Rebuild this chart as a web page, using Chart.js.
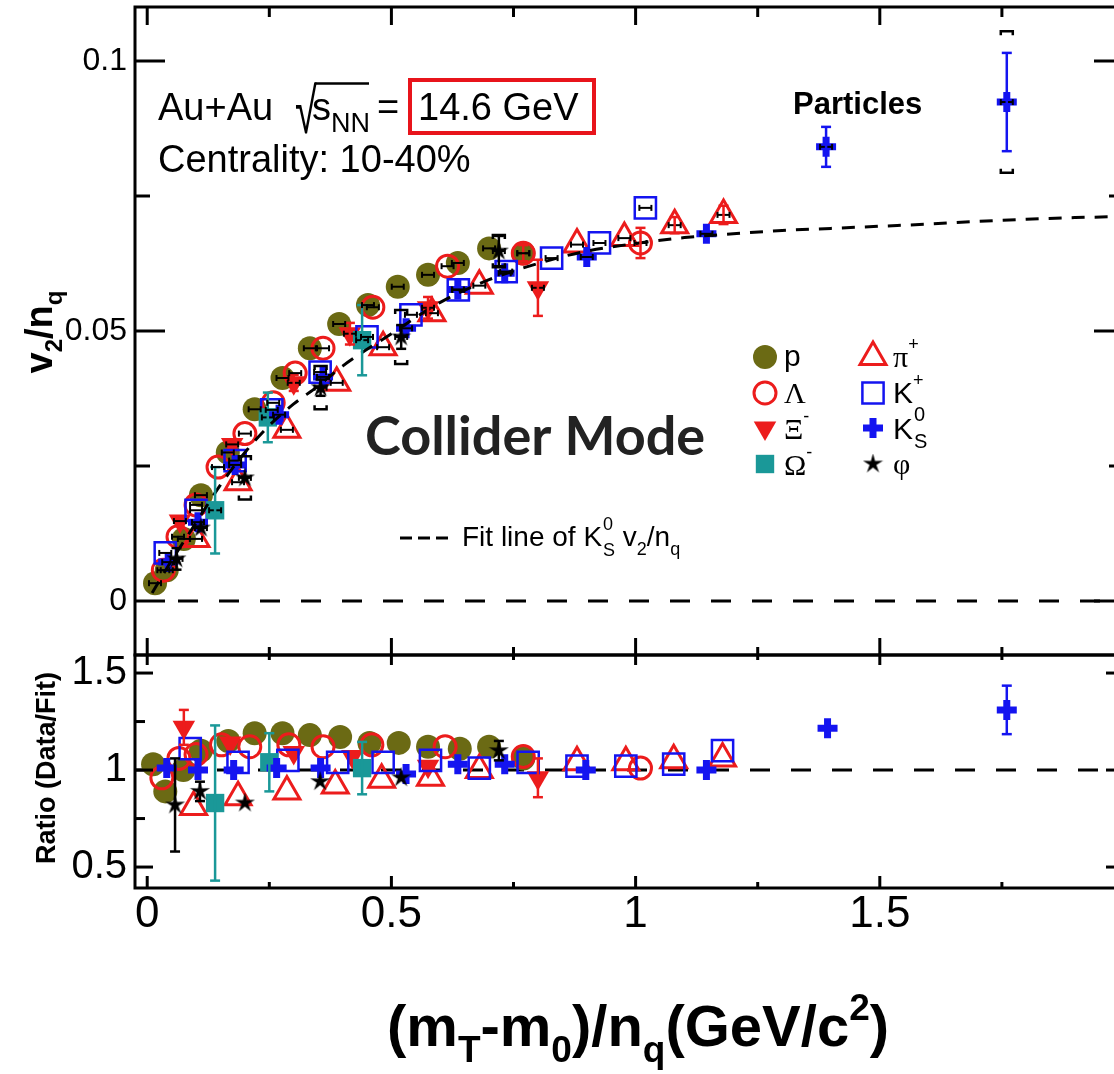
<!DOCTYPE html>
<html>
<head>
<meta charset="utf-8">
<title>v2/nq collider mode</title>
<script src="https://cdn.jsdelivr.net/npm/chart.js@4.4.1/dist/chart.umd.min.js"></script>
<style>
  html, body { margin: 0; padding: 0; background: #fff; overflow: hidden; }
  #wrap { position: relative; width: 1114px; height: 1074px; overflow: hidden; }
  #wrap canvas { position: absolute; left: 0; top: 0; }
</style>
</head>
<body>
<div id="wrap">
  <canvas id="lower" width="1130" height="1074"></canvas>
  <canvas id="upper" width="1130" height="1074"></canvas>
</div>
<script>
// ---- data: [x, value, stat error, (sys)] ----
// upper panel: v2/nq vs (mT-m0)/nq
const pUp = [[0.016,0.0033,0.0005],[0.04,0.0057,0.0005],[0.075,0.0115,0.0006],[0.11,0.0196,0.0006],[0.165,0.0275,0.0006],[0.22,0.0355,0.0006],[0.277,0.0413,0.0006],[0.333,0.0468,0.0006],[0.393,0.0513,0.0007],[0.452,0.0548,0.0007],[0.513,0.0582,0.0008],[0.575,0.0604,0.0008],[0.636,0.0626,0.0009],[0.70,0.0653,0.001],[0.77,0.0644,0.0012]];
const lamUp = [[0.033,0.0057,0.0005],[0.063,0.0119,0.0005],[0.10,0.0178,0.0006],[0.145,0.0248,0.0006],[0.20,0.031,0.0007],[0.258,0.0367,0.0007],[0.303,0.0422,0.0008],[0.36,0.0468,0.0008],[0.462,0.0544,0.001],[0.615,0.062,0.0012],[0.77,0.0644,0.0015],[1.01,0.0663,0.0028]];
const xiUp = [[0.067,0.0148,0.0012],[0.174,0.029,0.0012],[0.30,0.0404,0.0015],[0.415,0.0495,0.002],[0.575,0.0543,0.002],[0.80,0.058,0.0052]];
const omUp = [[0.139,0.0168,0.008],[0.247,0.034,0.0046],[0.44,0.0483,0.0065]];
const piUp = [[0.10,0.0115,0.0005],[0.186,0.022,0.0006],[0.286,0.0317,0.0007],[0.388,0.0404,0.0008],[0.483,0.047,0.0009],[0.583,0.0533,0.001],[0.68,0.0584,0.0011],[0.88,0.066,0.0012],[0.977,0.0672,0.0013],[1.08,0.0696,0.0015],[1.18,0.0715,0.0017]];
const kpUp = [[0.037,0.0089,0.0005],[0.10,0.0168,0.0005],[0.18,0.026,0.0006],[0.255,0.0354,0.0006],[0.354,0.0424,0.0007],[0.45,0.0489,0.0008],[0.54,0.053,0.0008],[0.637,0.0576,0.0009],[0.735,0.061,0.001],[0.828,0.0635,0.001],[0.926,0.0663,0.0012],[1.02,0.0728,0.0013]];
const ksUp = [[0.043,0.0072,0.0004],[0.104,0.0146,0.0005],[0.18,0.0252,0.0005],[0.27,0.0345,0.0006],[0.36,0.0415,0.0006],[0.53,0.0505,0.0007],[0.636,0.0577,0.0008],[0.732,0.0607,0.0009],[0.90,0.0637,0.001],[1.145,0.068,0.0012],[1.39,0.0841,0.0037],[1.76,0.0924,0.0091,0.0131]];
const phiUp = [[0.06,0.0078,0.002],[0.11,0.0135,0.001],[0.2,0.0228,0.0012,0.004],[0.355,0.0395,0.0015,0.004],[0.52,0.0489,0.0022,0.005],[0.72,0.0648,0.0028,0.003]];

// K0S fit line
const fitX = [0.01,0.05,0.1,0.15,0.2,0.25,0.3,0.35,0.4,0.5,0.6,0.7,0.8,0.9,1.0,1.1,1.2,1.3,1.4,1.5,1.6,1.7,1.8,1.9,2.0];
const fitV = [0.0015,0.0075,0.0145,0.0215,0.0275,0.0325,0.0365,0.0398,0.0435,0.0495,0.0553,0.0595,0.0625,0.0648,0.0662,0.0673,0.068,0.0686,0.069,0.0694,0.0698,0.0703,0.0707,0.071,0.0712];

// lower panel: ratio data / fit
const pLo = [[0.012,1.03,0.01],[0.037,0.89,0.01],[0.074,1.0,0.01],[0.11,1.10,0.01],[0.166,1.15,0.01],[0.22,1.19,0.01],[0.277,1.19,0.01],[0.333,1.18,0.01],[0.395,1.17,0.01],[0.455,1.14,0.01],[0.515,1.14,0.01],[0.575,1.12,0.01],[0.64,1.11,0.01],[0.70,1.12,0.01],[0.77,1.06,0.01]];
const lamLo = [[0.03,0.96,0.02],[0.065,1.06,0.02],[0.10,1.08,0.02],[0.152,1.13,0.02],[0.21,1.12,0.02],[0.29,1.13,0.02],[0.36,1.12,0.02],[0.46,1.13,0.02],[0.61,1.12,0.02],[0.77,1.07,0.02],[1.01,1.01,0.02]];
const xiLo = [[0.075,1.22,0.09],[0.17,1.14,0.03],[0.30,1.09,0.03],[0.42,1.07,0.03],[0.575,1.02,0.03],[0.80,0.96,0.1]];
const omLo = [[0.139,0.83,0.4],[0.25,1.04,0.15],[0.44,1.01,0.135]];
const piLo = [[0.095,0.81,0.02],[0.186,0.86,0.02],[0.286,0.89,0.02],[0.385,0.92,0.02],[0.48,0.95,0.02],[0.58,0.96,0.02],[0.68,1.0,0.02],[0.88,1.04,0.02],[0.98,1.04,0.02],[1.078,1.05,0.02],[1.178,1.06,0.02]];
const kpLo = [[0.088,1.11,0.02],[0.186,1.04,0.02],[0.288,1.05,0.02],[0.39,1.04,0.02],[0.483,1.04,0.02],[0.58,1.05,0.02],[0.68,1.01,0.02],[0.78,1.04,0.02],[0.88,1.02,0.02],[0.98,1.02,0.02],[1.078,1.03,0.02],[1.178,1.1,0.02]];
const ksLo = [[0.04,1.01,0.02],[0.104,1.0,0.02],[0.177,1.0,0.02],[0.265,1.01,0.02],[0.355,1.01,0.02],[0.53,0.98,0.02],[0.636,1.03,0.02],[0.732,1.03,0.02],[0.898,1.0,0.02],[1.145,1.0,0.02],[1.393,1.215,0.03],[1.76,1.31,0.125]];
const phiLo = [[0.057,0.82,0.24],[0.108,0.89,0.05],[0.2,0.83,0.02],[0.354,0.94,0.03],[0.52,0.96,0.04],[0.72,1.10,0.05]];

// ticks
const xMajor = [0, 0.5, 1, 1.5, 2];
const xMinor = [0.25, 0.75, 1.25, 1.75];
const xLabels = [0, 0.5, 1, 1.5];
const upYMajor = [0, 0.05, 0.1];
const upYMinor = [0.025, 0.075];
const loYMajor = [0.5, 1, 1.5];
const loYMinor = [0.75, 1.25];

const SANS = '"Liberation Sans", Arial, Helvetica, sans-serif';
const SERIF = '"Liberation Serif", "Times New Roman", serif';
const OLIVE = '#6b6a14', RED = '#ec1c1c', BLUE = '#1414f0', TEAL = '#1a9898', BLACK = '#000';

// the x tick numbers in the figure are tall and narrow; use the narrow face if it is there
function hasFont(name) {
  const g = document.createElement('canvas').getContext('2d');
  g.font = '100px monospace';
  const a = g.measureText('0.5 mmm').width;
  g.font = `100px "${name}", monospace`;
  return g.measureText('0.5 mmm').width !== a;
}
const NARROW = hasFont('Liberation Sans Narrow');
const xTickFont = NARROW ? {family: '"Liberation Sans Narrow", ' + SANS, size: 54} : {family: SANS, size: 44};

function makeStar(size) {
  const c = document.createElement('canvas');
  c.width = c.height = size;
  const g = c.getContext('2d');
  g.fillStyle = '#000';
  g.beginPath();
  for (let i = 0; i < 10; i++) {
    const a = -Math.PI / 2 + i * Math.PI / 5;
    const r = i % 2 ? size * 0.17 : size / 2;
    g.lineTo(size / 2 + r * Math.cos(a), size / 2 + r * Math.sin(a));
  }
  g.closePath();
  g.fill();
  return c;
}
const starImg = makeStar(21);

// first entry is drawn on top
const species = [
  {up: phiUp, lo: phiLo, color: BLACK, style: starImg, radius: 10, rot: 0, fill: BLACK, bw: 0},
  {up: ksUp,  lo: ksLo,  color: BLUE,  style: 'cross', radius: 10, rot: 0, fill: BLUE, bw: 7},
  {up: omUp,  lo: omLo,  color: TEAL,  style: 'rect', radius: 13, rot: 0, fill: TEAL, bw: 0},
  {up: kpUp,  lo: kpLo,  color: BLUE,  style: 'rect', radius: 15, rot: 0, fill: 'rgba(0,0,0,0)', bw: 2.5},
  {up: piUp,  lo: piLo,  color: RED,   style: 'triangle', radius: 15, rot: 0, fill: 'rgba(0,0,0,0)', bw: 3},
  {up: xiUp,  lo: xiLo,  color: RED,   style: 'triangle', radius: 13, rot: 180, fill: RED, bw: 0},
  {up: lamUp, lo: lamLo, color: RED,   style: 'circle', radius: 11, rot: 0, fill: 'rgba(0,0,0,0)', bw: 3},
  {up: pUp,   lo: pLo,   color: OLIVE, style: 'circle', radius: 12, rot: 0, fill: OLIVE, bw: 0}
];

function makeDataset(sp, rows) {
  return {
    data: rows.map(r => ({x: r[0], y: r[1]})),
    errs: rows,
    barColor: sp.color,
    showLine: false,
    pointStyle: sp.style,
    pointRadius: sp.radius,
    pointHoverRadius: sp.radius,
    pointRotation: sp.rot,
    pointBackgroundColor: sp.fill,
    pointBorderColor: sp.color,
    pointBorderWidth: sp.bw,
    pointHoverBorderWidth: sp.bw
  };
}

function line(ctx, x1, y1, x2, y2) {
  ctx.beginPath(); ctx.moveTo(x1, y1); ctx.lineTo(x2, y2); ctx.stroke();
}

// text pieces: [text, font, dy]
function runText(ctx, x, y, parts) {
  for (const [t, f, dy] of parts) {
    ctx.font = f;
    ctx.fillText(t, x, y + (dy || 0));
    x += ctx.measureText(t).width;
  }
  return x;
}
function runWidth(ctx, parts) {
  let w = 0;
  for (const [t, f] of parts) { ctx.font = f; w += ctx.measureText(t).width; }
  return w;
}

const errorBars = {
  id: 'errorBars',
  afterDatasetsDraw(chart, args, opts) {
    const {ctx, scales: {x, y}} = chart;
    ctx.save();
    ctx.lineCap = 'butt';
    chart.data.datasets.forEach(ds => {
      if (!ds.errs) return;
      ds.errs.forEach(r => {
        const px = x.getPixelForValue(r[0]);
        const py = y.getPixelForValue(r[1]);
        if (opts.hbar) {
          ctx.strokeStyle = '#000'; ctx.lineWidth = 2;
          line(ctx, px - 6, py, px + 6, py);
          line(ctx, px - 6, py - 3, px - 6, py + 3);
          line(ctx, px + 6, py - 3, px + 6, py + 3);
        }
        const top = y.getPixelForValue(r[1] + r[2]);
        const bot = y.getPixelForValue(r[1] - r[2]);
        if (py - top > 8) {
          ctx.strokeStyle = ds.barColor; ctx.lineWidth = 2.5;
          line(ctx, px, top, px, bot);
          line(ctx, px - 5, top, px + 5, top);
          line(ctx, px - 5, bot, px + 5, bot);
        }
        if (r[3]) {
          const st = y.getPixelForValue(r[1] + r[3]);
          const sb = y.getPixelForValue(r[1] - r[3]);
          ctx.strokeStyle = '#000'; ctx.lineWidth = 2.5;
          [[st, 4], [sb, -4]].forEach(([yy, d]) => {
            ctx.beginPath();
            ctx.moveTo(px - 6, yy + d); ctx.lineTo(px - 6, yy); ctx.lineTo(px + 6, yy); ctx.lineTo(px + 6, yy + d);
            ctx.stroke();
          });
        }
      });
    });
    ctx.restore();
  }
};

// frame, inward ticks and the dashed reference line
const frame = {
  id: 'frame',
  beforeDatasetsDraw(chart, args, opts) {
    const {ctx, chartArea: a, scales: {y}} = chart;
    const py = y.getPixelForValue(opts.refValue);
    ctx.save();
    ctx.strokeStyle = '#000'; ctx.lineWidth = 3;
    ctx.setLineDash([20, 21]);
    line(ctx, opts.refStart, py, a.right, py);
    ctx.restore();
  },
  afterDraw(chart, args, opts) {
    const {ctx, chartArea: a, scales: {x, y}} = chart;
    ctx.save();
    ctx.strokeStyle = '#000'; ctx.lineWidth = 3;
    ctx.strokeRect(a.left, a.top, a.right - a.left, a.bottom - a.top);
    xMajor.forEach(v => {
      const px = x.getPixelForValue(v);
      line(ctx, px, a.top, px, a.top + opts.topMaj);
      line(ctx, px, a.bottom, px, a.bottom - opts.botMaj);
    });
    xMinor.forEach(v => {
      const px = x.getPixelForValue(v);
      line(ctx, px, a.top, px, a.top + opts.topMin);
      line(ctx, px, a.bottom, px, a.bottom - opts.botMin);
    });
    opts.yMajor.forEach(v => {
      const py = y.getPixelForValue(v);
      line(ctx, a.left, py, a.left + opts.yMaj, py);
      line(ctx, a.right, py, a.right - opts.yMaj, py);
    });
    opts.yMinor.forEach(v => {
      const py = y.getPixelForValue(v);
      line(ctx, a.left, py, a.left + opts.yMin, py);
      line(ctx, a.right, py, a.right - opts.yMin, py);
    });
    ctx.restore();
  }
};

function drawMarker(ctx, sp, x, y) {
  ctx.save();
  ctx.fillStyle = sp.fill; ctx.strokeStyle = sp.color; ctx.lineWidth = sp.bw;
  if (Chart.helpers && Chart.helpers.drawPoint) {
    Chart.helpers.drawPoint(ctx, {pointStyle: sp.style, rotation: sp.rot, radius: sp.radius, borderWidth: sp.bw}, x, y);
  }
  ctx.restore();
}

const upperText = {
  id: 'upperText',
  afterDraw(chart) {
    const ctx = chart.ctx;
    ctx.save();
    ctx.fillStyle = '#000';
    ctx.textBaseline = 'alphabetic';
    ctx.textAlign = 'left';

    // header
    ctx.font = `38px ${SANS}`;
    ctx.fillText('Au+Au', 158, 120);
    // radical: tall and narrow like the original
    ctx.save();
    ctx.translate(295, 133);
    ctx.scale(0.62, 1);
    ctx.font = `64px ${SANS}`;
    ctx.fillText('\u221A', 0, 0);
    const m = ctx.measureText('\u221A');
    ctx.restore();
    const oy = 133 - m.actualBoundingBoxAscent + 1.5;
    ctx.lineWidth = 2.5; ctx.strokeStyle = '#000';
    line(ctx, 295 + m.width * 0.62 - 2, oy, 369, oy);
    ctx.font = `38px ${SANS}`;
    ctx.fillText('s', 312, 120);
    ctx.font = `27px ${SANS}`;
    ctx.fillText('NN', 331, 132);
    ctx.font = `38px ${SANS}`;
    ctx.fillText('=', 377, 120);
    ctx.fillText('14.6 GeV', 418, 120);
    ctx.fillText('Centrality: 10-40%', 158, 172);
    ctx.strokeStyle = '#e8141b'; ctx.lineWidth = 4;
    ctx.strokeRect(410, 80, 184, 53);

    ctx.font = `bold 31px ${SANS}`;
    ctx.fillText('Particles', 793, 114);

    ctx.fillStyle = '#222';
    ctx.font = `bold 54px Lato, ${SANS}`;
    ctx.fillText('Collider Mode', 365, 455);
    ctx.fillStyle = '#000';

    // legend
    const order = [7, 6, 5, 2, 4, 3, 1, 0];
    const mx = [765, 765, 765, 765, 873, 873, 873, 873];
    const my = [357, 393, 428, 464, 357, 393, 428, 464];
    order.forEach((si, k) => drawMarker(ctx, species[si], mx[k], my[k]));
    const F = `30px ${SANS}`, G = `30px ${SERIF}`, S = `18px ${SANS}`, S2 = `20px ${SANS}`;
    runText(ctx, 784, 366, [['p', F]]);
    runText(ctx, 784, 403, [['\u039B', G]]);
    runText(ctx, 784, 439, [['\u039E', G], ['-', S, -17]]);
    runText(ctx, 784, 475, [['\u03A9', G], ['-', S, -17]]);
    runText(ctx, 893, 367, [['\u03C0', G], ['+', S, -17]]);
    runText(ctx, 893, 403, [['K', F], ['+', S, -17]]);
    const kx = runText(ctx, 893, 439, [['K', F]]);
    runText(ctx, kx + 1, 421, [['0', S2]]);
    runText(ctx, kx + 1, 448, [['S', S2]]);
    runText(ctx, 893, 474, [['\u03C6', G]]);

    // fit legend
    ctx.strokeStyle = '#000'; ctx.lineWidth = 3;
    [400, 418, 436].forEach(x0 => line(ctx, x0, 538, x0 + 12, 538));
    const L = `28px ${SANS}`, Ls = `18px ${SANS}`;
    const fx = runText(ctx, 462, 546, [['Fit line of K', L]]);
    runText(ctx, fx + 1, 530, [['0', Ls]]);
    runText(ctx, fx + 1, 556, [['S', Ls]]);
    runText(ctx, fx + 13, 546, [[' v', L], ['2', Ls, 9], ['/n', L], ['q', Ls, 9]]);

    // y title
    const yt = [['v', `bold 38px ${SANS}`], ['2', `bold 24px ${SANS}`, 10], ['/n', `bold 38px ${SANS}`], ['q', `bold 24px ${SANS}`, 10]];
    const w = runWidth(ctx, yt);
    ctx.translate(52, 332);
    ctx.rotate(-Math.PI / 2);
    runText(ctx, -w / 2, 0, yt);
    ctx.restore();
  }
};

const lowerText = {
  id: 'lowerText',
  afterDraw(chart) {
    const ctx = chart.ctx;
    ctx.save();
    ctx.fillStyle = '#000';
    ctx.textBaseline = 'alphabetic';
    ctx.textAlign = 'left';
    const B = `bold 58px ${SANS}`, Bs = `bold 37px ${SANS}`;
    runText(ctx, 387, 1046, [['(m', B], ['T', Bs, 16], ['-m', B], ['0', Bs, 16], [')/n', B], ['q', Bs, 16], ['(GeV/c', B], ['2', Bs, -26], [')', B]]);
    const rt = [['Ratio (Data/Fit)', `bold 27px ${SANS}`]];
    const w = runWidth(ctx, rt);
    ctx.translate(55, 768);
    ctx.rotate(-Math.PI / 2);
    runText(ctx, -w / 2, 0, rt);
    ctx.restore();
  }
};

function zeroPad(s) { s.paddingTop = 0; s.paddingBottom = 0; s.paddingLeft = 0; s.paddingRight = 0; }

const upperDatasets = [{
  type: 'line',
  data: fitX.map((v, i) => ({x: v, y: fitV[i]})),
  borderColor: '#000', borderWidth: 3, borderDash: [13, 10],
  pointRadius: 0, pointHoverRadius: 0, fill: false,
  cubicInterpolationMode: 'monotone'
}].concat(species.map(sp => makeDataset(sp, sp.up)));

new Chart(document.getElementById('upper'), {
  type: 'scatter',
  data: {datasets: upperDatasets},
  plugins: [frame, errorBars, upperText],
  options: {
    responsive: false, animation: false, events: [],
    layout: {autoPadding: false, padding: {top: 7, left: 0, right: 6, bottom: 419}},
    plugins: {
      legend: {display: false}, tooltip: {enabled: false},
      errorBars: {hbar: true},
      frame: {refValue: 0, refStart: 178, topMaj: 18, topMin: 10, botMaj: 17, botMin: 8, yMajor: upYMajor, yMinor: upYMinor, yMaj: 30, yMin: 15}
    },
    scales: {
      x: {type: 'linear', min: -0.025, max: 2.0, display: false},
      y: {
        type: 'linear', min: -0.01, max: 0.11,
        grid: {display: false, drawTicks: false}, border: {display: false},
        afterBuildTicks: s => { s.ticks = upYMajor.map(v => ({value: v})); },
        afterFit: s => { s.width = 135; zeroPad(s); },
        ticks: {color: '#000', padding: 8, font: {family: SANS, size: 32}, callback: v => String(v)}
      }
    }
  }
});

new Chart(document.getElementById('lower'), {
  type: 'scatter',
  data: {datasets: species.map(sp => makeDataset(sp, sp.lo))},
  plugins: [frame, errorBars, lowerText],
  options: {
    responsive: false, animation: false, events: [],
    layout: {autoPadding: false, padding: {top: 655, left: 0, right: 6, bottom: 0}},
    plugins: {
      legend: {display: false}, tooltip: {enabled: false},
      errorBars: {hbar: false},
      frame: {refValue: 1, refStart: 135, topMaj: 10, topMin: 5, botMaj: 12, botMin: 6, yMajor: loYMajor, yMinor: loYMinor, yMaj: 18, yMin: 10}
    },
    scales: {
      x: {
        type: 'linear', min: -0.025, max: 2.0,
        grid: {display: false, drawTicks: false}, border: {display: false},
        afterBuildTicks: s => { s.ticks = xLabels.map(v => ({value: v})); },
        afterFit: s => { s.height = 186; zeroPad(s); },
        ticks: {color: '#000', padding: 0, maxRotation: 0, autoSkip: false, font: xTickFont, callback: v => String(v)}
      },
      y: {
        type: 'linear', min: 0.392, max: 1.593,
        grid: {display: false, drawTicks: false}, border: {display: false},
        afterBuildTicks: s => { s.ticks = loYMajor.map(v => ({value: v})); },
        afterFit: s => { s.width = 135; zeroPad(s); },
        ticks: {color: '#000', padding: 8, font: {family: SANS, size: 40}, callback: v => String(v)}
      }
    }
  }
});
</script>
</body>
</html>
